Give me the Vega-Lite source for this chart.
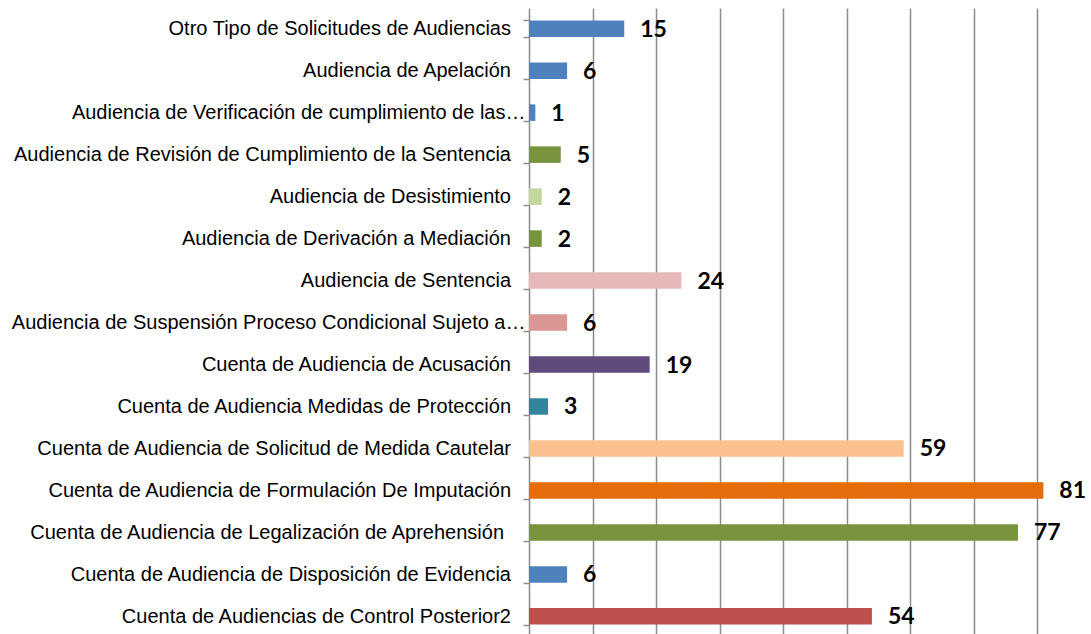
{
  "$schema": "https://vega.github.io/schema/vega-lite/v6.json",
  "autosize": {"type": "none"},
  "width": 562,
  "height": 626,
  "padding": {"left": 529, "top": 8, "right": 0, "bottom": 0},
  "background": "white",
  "config": {"view": {"stroke": null}},
  "data": {
    "values": [
      {"cat": "Otro Tipo de Solicitudes de Audiencias", "value": 15, "grp": "a"},
      {"cat": "Audiencia de Apelación", "value": 6, "grp": "b"},
      {"cat": "Audiencia de Verificación de cumplimiento de las…", "value": 1, "grp": "c"},
      {"cat": "Audiencia de Revisión de Cumplimiento de la Sentencia", "value": 5, "grp": "d"},
      {"cat": "Audiencia de Desistimiento", "value": 2, "grp": "e"},
      {"cat": "Audiencia de Derivación a Mediación", "value": 2, "grp": "f"},
      {"cat": "Audiencia de Sentencia", "value": 24, "grp": "g"},
      {"cat": "Audiencia de Suspensión Proceso Condicional Sujeto a…", "value": 6, "grp": "h"},
      {"cat": "Cuenta de Audiencia de Acusación", "value": 19, "grp": "i"},
      {"cat": "Cuenta de Audiencia Medidas de Protección", "value": 3, "grp": "j"},
      {"cat": "Cuenta de Audiencia de Solicitud de Medida Cautelar", "value": 59, "grp": "k"},
      {"cat": "Cuenta de Audiencia de Formulación De Imputación", "value": 81, "grp": "l"},
      {"cat": "Cuenta de Audiencia de Legalización de Aprehensión", "value": 77, "grp": "m"},
      {"cat": "Cuenta de Audiencia de Disposición de Evidencia", "value": 6, "grp": "n"},
      {"cat": "Cuenta de Audiencias de Control Posterior2", "value": 54, "grp": "o"}
    ]
  },
  "encoding": {
    "y": {
      "field": "cat",
      "type": "nominal",
      "sort": null,
      "scale": {"paddingInner": 0.607, "paddingOuter": 0.26, "align": 0.57},
      "axis": {
        "title": null,
        "tickBand": "extent",
        "tickSize": 6,
        "tickColor": "#8c8c8c",
        "tickWidth": 1.5,
        "domainColor": "#8c8c8c",
        "domainWidth": 1.5,
        "labelFont": "Liberation Sans",
        "labelFontSize": 20,
        "labelColor": "#000000",
        "labelLimit": 600,
        "labelPadding": {
          "condition": [
            {"test": "indexof(datum.label, '…') >= 0", "value": -2},
            {"test": "indexof(datum.label, 'Aprehensi') >= 0", "value": 19.5}
          ],
          "value": 12.5
        },
        "grid": false
      }
    },
    "x": {
      "field": "value",
      "type": "quantitative",
      "scale": {"domain": [0, 88.5], "nice": false},
      "axis": {
        "title": null,
        "labels": false,
        "ticks": false,
        "domain": false,
        "grid": true,
        "gridColor": "#8c8c8c",
        "gridWidth": 1.5,
        "values": [10, 20, 30, 40, 50, 60, 70, 80]
      }
    }
  },
  "layer": [
    {
      "mark": {"type": "bar"},
      "encoding": {
        "color": {
          "field": "grp",
          "type": "nominal",
          "legend": null,
          "scale": {
            "domain": ["a","b","c","d","e","f","g","h","i","j","k","l","m","n","o"],
            "range": ["#4F81BD","#4F81BD","#4F81BD","#77933C","#C3D69B","#77933C","#E6B9B8","#D99694","#604A7B","#31859C","#FAC090","#E46C0A","#77933C","#4F81BD","#C0504D"]
          }
        }
      }
    },
    {
      "mark": {"type": "text", "align": "left", "baseline": "middle", "dx": 16, "dy": 1, "font": "Lato", "fontWeight": "bold", "fontSize": 23, "color": "#000000"},
      "encoding": {"text": {"field": "value", "type": "quantitative"}}
    }
  ]
}
